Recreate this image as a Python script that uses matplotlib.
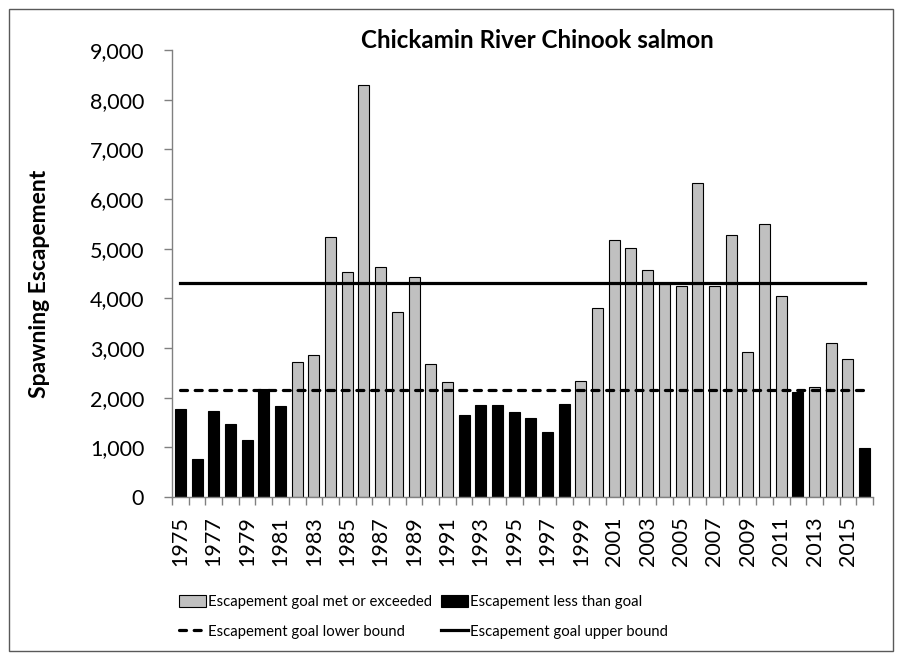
import matplotlib.pyplot as plt
from matplotlib.patches import Patch, Rectangle
from matplotlib.lines import Line2D
from matplotlib.ticker import FuncFormatter, MultipleLocator

plt.rcParams['font.family'] = ['Lato', 'DejaVu Sans']

years = list(range(1975, 2017))
escapement = [1770, 760, 1730, 1470, 1150, 2170, 1830, 2710, 2850, 5240,
              4540, 8290, 4630, 3730, 4430, 2680, 2320, 1650, 1850, 1850,
              1710, 1600, 1310, 1870, 2340, 3810, 5180, 5010, 4580, 4280,
              4250, 6320, 4240, 5280, 2910, 5500, 4050, 2110, 2220, 3100,
              2770, 980]
# 1 = goal met or exceeded, 0 = less than goal
met_goal = [0, 0, 0, 0, 0, 0, 0, 1, 1, 1,
            1, 1, 1, 1, 1, 1, 1, 0, 0, 0,
            0, 0, 0, 0, 1, 1, 1, 1, 1, 1,
            1, 1, 1, 1, 1, 1, 1, 0, 1, 1,
            1, 0]
lower_bound = 2150
upper_bound = 4300

fig = plt.figure(figsize=(9.02, 6.60), dpi=100)
ax = fig.add_axes([172 / 902, 163 / 660, 701 / 902, 447 / 660])

x = list(range(len(years)))
colors = ['#c0c0c0' if m else 'black' for m in met_goal]
ax.bar(x, escapement, width=0.66, color=colors, edgecolor='black', linewidth=0.8, zorder=2)
ax.plot([x[0], x[-1]], [lower_bound] * 2, color='black', lw=2.3,
        linestyle=(0, (2.2, 2.4)), dash_capstyle='round', zorder=3)
ax.plot([x[0], x[-1]], [upper_bound] * 2, color='black', lw=2.3, zorder=3)

ax.set_xlim(-0.5, len(years) - 0.5)
ax.set_ylim(0, 9000)
ax.yaxis.set_major_locator(MultipleLocator(1000))
ax.yaxis.set_major_formatter(FuncFormatter(lambda v, p: f'{int(v):,}'))

ax.set_xticks(x[::2])
ax.set_xticklabels([str(y) for y in years[::2]], rotation=90)
ax.set_xticks([i - 0.5 for i in range(len(years) + 1)], minor=True)
ax.tick_params(axis='x', which='major', length=0, pad=14, labelsize=15.5)
ax.tick_params(axis='x', which='minor', length=6, color='#808080', width=1)
ax.tick_params(axis='y', length=6, color='#808080', width=1, pad=14, labelsize=15.5)

for s in ['top', 'right']:
    ax.spines[s].set_visible(False)
for s in ['left', 'bottom']:
    ax.spines[s].set_color('#808080')
    ax.spines[s].set_linewidth(1)

fig.text(537 / 902, 1 - 40 / 660, 'Chickamin River Chinook salmon', ha='center', va='center',
         fontsize=17.4, fontweight='bold')
fig.text(40 / 902, 1 - 284 / 660, 'Spawning Escapement', ha='center', va='center',
         rotation=90, fontsize=16.5, fontweight='bold')

handles = [
    Patch(facecolor='#c0c0c0', edgecolor='black', linewidth=0.8),
    Line2D([], [], color='black', lw=2.3, linestyle=(0, (2.2, 2.4)), dash_capstyle='round'),
    Patch(facecolor='black', edgecolor='black', linewidth=0.8),
    Line2D([], [], color='black', lw=2.3),
]
labels = ['Escapement goal met or exceeded', 'Escapement goal lower bound',
          'Escapement less than goal', 'Escapement goal upper bound']
fig.legend(handles, labels, ncol=2, loc='upper left', bbox_to_anchor=(179 / 902, 1 - 595 / 660),
           frameon=False, fontsize=10.7, handlelength=1.8, handleheight=0.8,
           handletextpad=0.15, columnspacing=0.6, labelspacing=1.05, borderpad=0, borderaxespad=0)

fig.add_artist(Rectangle((9 / 902, 9 / 660), 884 / 902, 642 / 660, transform=fig.transFigure,
                         fill=False, edgecolor='#595959', linewidth=1))

fig.savefig('out.png', dpi=100)
